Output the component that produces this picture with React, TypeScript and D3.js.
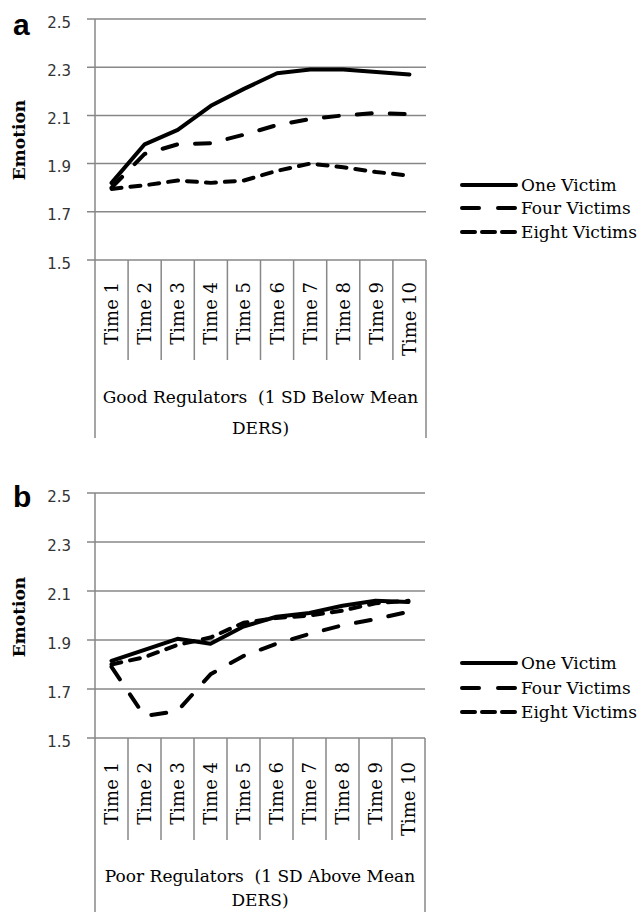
import React from 'react';
import * as d3 from 'd3';

// categories and ticks
const times = ['Time 1', 'Time 2', 'Time 3', 'Time 4', 'Time 5', 'Time 6', 'Time 7', 'Time 8', 'Time 9', 'Time 10'];
const yTicks = [1.5, 1.7, 1.9, 2.1, 2.3, 2.5];
const seriesNames = ['One Victim', 'Four Victims', 'Eight Victims'];

// panel a: good regulators
const goodOne = [1.82, 1.98, 2.04, 2.14, 2.21, 2.275, 2.29, 2.29, 2.28, 2.27];
const goodFour = [1.8, 1.94, 1.98, 1.985, 2.02, 2.06, 2.085, 2.1, 2.11, 2.105];
const goodEight = [1.795, 1.81, 1.83, 1.82, 1.83, 1.87, 1.9, 1.885, 1.865, 1.85];

// panel b: poor regulators
const poorOne = [1.815, 1.86, 1.905, 1.885, 1.955, 1.995, 2.01, 2.04, 2.06, 2.055];
const poorFour = [1.79, 1.59, 1.61, 1.76, 1.835, 1.885, 1.925, 1.96, 1.985, 2.015];
const poorEight = [1.8, 1.83, 1.88, 1.91, 1.97, 1.99, 2.0, 2.02, 2.05, 2.06];

const W = 644;
const H = 912;
const grid = '#878787';
const serif = '"DejaVu Serif", serif';

const lineStyles = [
  { dash: null, legendDash: null },
  { dash: '15 18', legendDash: '17 19' },
  { dash: '10 9', legendDash: '13 7' },
];

const panels = [
  {
    letter: 'a', top: 19, bottom: 260, left: 95, right: 426,
    letterY: 35, emotionY: 140, timeTop: 282, innerBottom: 360, outerBottom: 438,
    group: ['Good Regulators  (1 SD Below Mean', 'DERS)'], groupY: [403, 434],
    legendY: [185, 208, 232],
    values: [goodOne, goodFour, goodEight],
  },
  {
    letter: 'b', top: 493, bottom: 738, left: 95, right: 425,
    letterY: 507, emotionY: 617, timeTop: 762, innerBottom: 840, outerBottom: 912,
    group: ['Poor Regulators  (1 SD Above Mean', 'DERS)'], groupY: [882, 906],
    legendY: [663, 688, 712],
    values: [poorOne, poorFour, poorEight],
  },
];

function Panel({ p }: { p: typeof panels[number] }) {
  const x = d3.scaleBand<string>().domain(times).range([p.left, p.right]);
  const y = d3.scaleLinear().domain([1.5, 2.5]).range([p.bottom, p.top]);
  const line = d3
    .line<number>()
    .x((d, i) => (x(times[i]) as number) + x.bandwidth() / 2)
    .y(d => y(d));
  const mid = (p.left + p.right) / 2;

  return (
    <g>
      <text x={13} y={p.letterY} fontFamily='"Liberation Sans", Arial, sans-serif' fontWeight="bold" fontSize={30} fill="#000">
        {p.letter}
      </text>
      <text
        transform={`translate(19,${p.emotionY}) rotate(-90)`}
        textAnchor="middle"
        dominantBaseline="central"
        fontFamily={serif}
        fontWeight="bold"
        fontSize={17}
      >
        Emotion
      </text>

      {yTicks.map(t => (
        <g key={t}>
          <line x1={p.left - 8} x2={p.right} y1={y(t)} y2={y(t)} stroke={grid} strokeWidth={1.5} />
          <text x={71} y={y(t) + 8.5} textAnchor="end" fontFamily='"DejaVu Sans", Verdana, sans-serif' fontSize={15} fill="#333">
            {t.toFixed(1)}
          </text>
        </g>
      ))}

      {/* category separators */}
      {times.map((t, i) =>
        i === 0 ? null : (
          <line key={t} x1={x(t)} x2={x(t)} y1={p.bottom} y2={p.innerBottom} stroke={grid} strokeWidth={1.5} />
        )
      )}
      <line x1={p.left} x2={p.left} y1={p.top} y2={p.outerBottom} stroke={grid} strokeWidth={1.5} />
      <line x1={p.right} x2={p.right} y1={p.bottom} y2={p.outerBottom} stroke={grid} strokeWidth={1.5} />

      {times.map(t => (
        <text
          key={t}
          transform={`translate(${(x(t) as number) + x.bandwidth() / 2},${p.timeTop}) rotate(-90)`}
          textAnchor="end"
          dominantBaseline="central"
          fontFamily={serif}
          fontSize={18}
        >
          {t}
        </text>
      ))}

      {p.group.map((s, i) => (
        <text key={i} x={mid} y={p.groupY[i]} textAnchor="middle" fontFamily={serif} fontSize={17} style={{ whiteSpace: 'pre' }}>
          {s}
        </text>
      ))}

      {p.values.map((vals, i) => (
        <path
          key={i}
          d={line(vals) || ''}
          fill="none"
          stroke="#000"
          strokeWidth={4}
          strokeLinecap="round"
          strokeLinejoin="round"
          strokeDasharray={lineStyles[i].dash || undefined}
        />
      ))}

      {seriesNames.map((name, i) => (
        <g key={name}>
          <line
            x1={462}
            x2={516}
            y1={p.legendY[i]}
            y2={p.legendY[i]}
            stroke="#000"
            strokeWidth={4}
            strokeLinecap="round"
            strokeDasharray={lineStyles[i].legendDash || undefined}
          />
          <text x={521} y={p.legendY[i]} dominantBaseline="central" fontFamily={serif} fontSize={17}>
            {name}
          </text>
        </g>
      ))}
    </g>
  );
}

export default function App() {
  return (
    <div style={{ position: 'absolute', left: 0, top: 0 }}>
      <svg width={W} height={H} style={{ display: 'block', background: '#fff' }}>
        {panels.map(p => (
          <Panel key={p.letter} p={p} />
        ))}
      </svg>
    </div>
  );
}
